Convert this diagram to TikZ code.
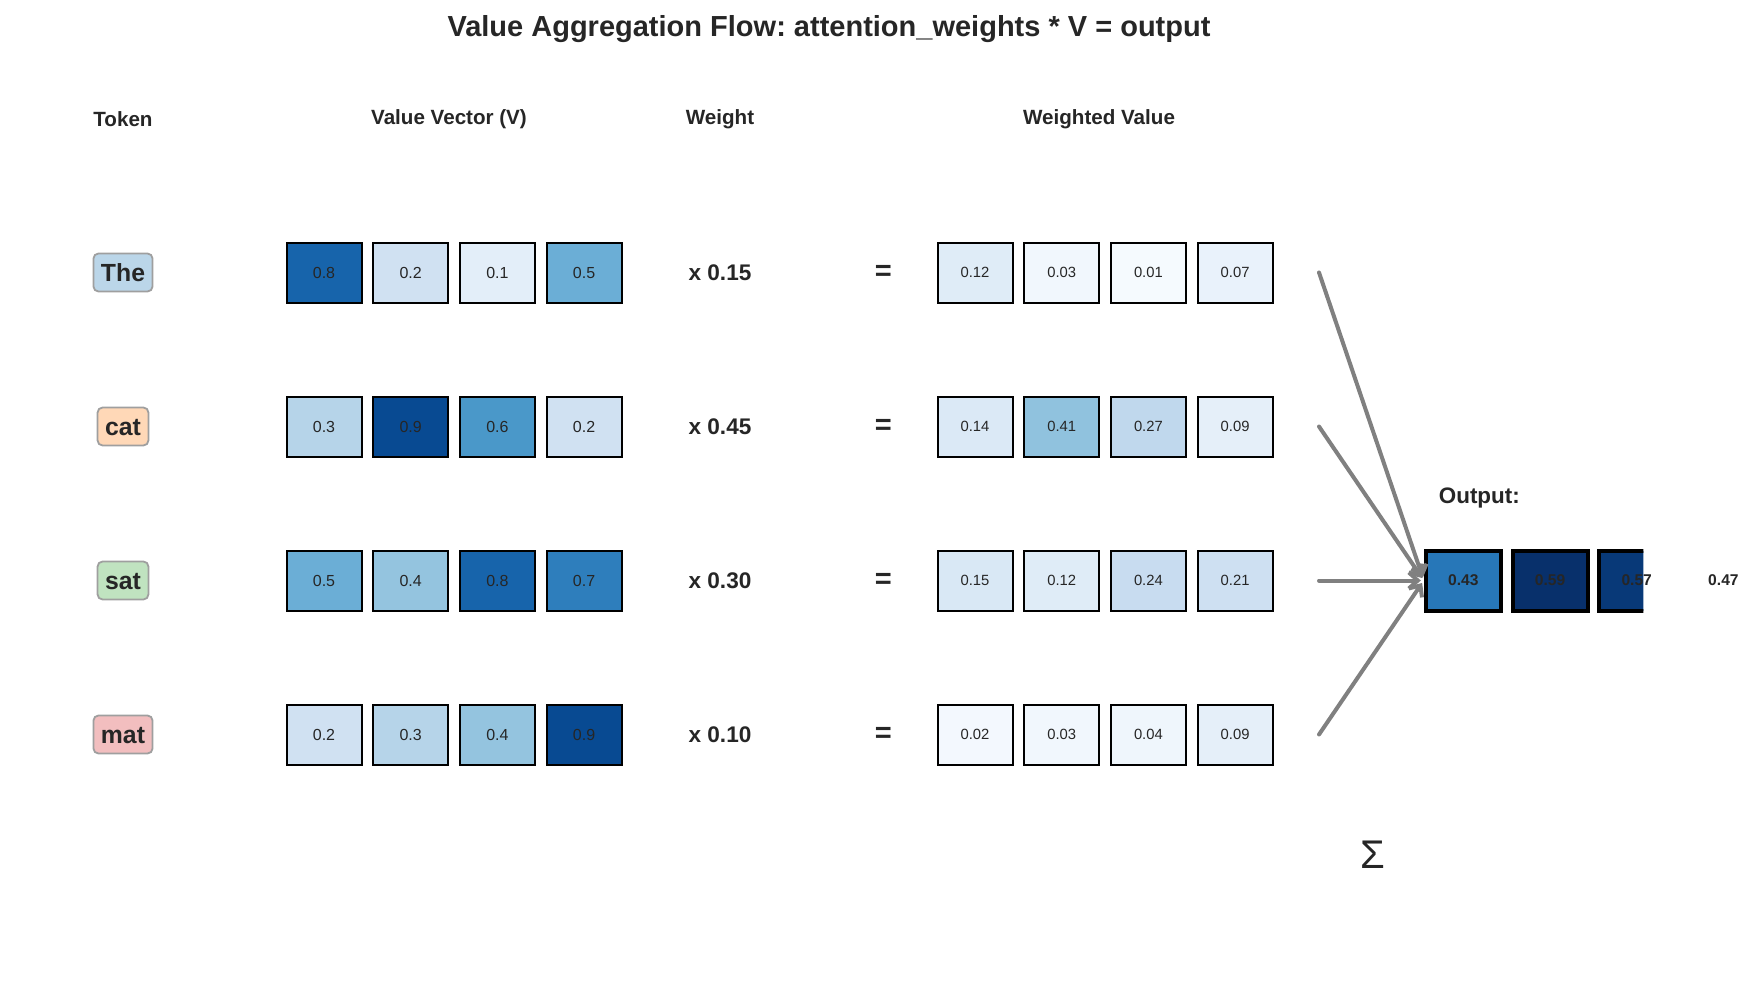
\documentclass[tikz,border=0pt]{standalone}
\usepackage{fontspec}
\setmainfont{Liberation Sans}
\usetikzlibrary{arrows.meta, calc}
\frenchspacing
\definecolor{ink}{RGB}{38,38,38}
\definecolor{arrG}{RGB}{128,128,128}
% token backgrounds
\definecolor{tokB}{RGB}{187,214,233}
\definecolor{tokO}{RGB}{255,216,183}
\definecolor{tokG}{RGB}{192,227,192}
\definecolor{tokR}{RGB}{242,190,191}
% Blues colour scale, 9 steps
\definecolor{bl0}{RGB}{247,251,255}
\definecolor{bl1}{RGB}{222,235,247}
\definecolor{bl2}{RGB}{198,219,239}
\definecolor{bl3}{RGB}{158,202,225}
\definecolor{bl4}{RGB}{107,174,214}
\definecolor{bl5}{RGB}{66,146,198}
\definecolor{bl6}{RGB}{33,113,181}
\definecolor{bl7}{RGB}{8,81,156}
\definecolor{bl8}{RGB}{8,48,107}
\newcommand{\bluesfill}[1]{%
  \pgfmathtruncatemacro{\bseg}{min(#1*8,7)}%
  \pgfmathsetmacro{\bfrac}{(#1*8-\bseg)*100}%
  \pgfmathtruncatemacro{\bnext}{\bseg+1}%
  \colorlet{cellc}{bl\bnext!\bfrac!bl\bseg}}
\tikzset{
  ttl/.style={text=ink, font=\fontsize{14.5}{17}\selectfont\bfseries},
  hdr/.style={text=ink, font=\fontsize{10.3}{12}\selectfont\bfseries},
  tok/.style={draw=gray!75, line width=0.9pt, rounded corners=2.5pt, inner xsep=3.75pt,
    minimum height=19pt, text height=9pt, text depth=0pt, text=ink,
    font=\fontsize{12.4}{14}\selectfont\bfseries},
  wgt/.style={text=ink, font=\fontsize{11.3}{13}\selectfont\bfseries},
  eqs/.style={text=ink, font=\fontsize{14.5}{17}\selectfont\bfseries},
  cell/.style={draw=black, line width=1pt, minimum width=37.5pt, minimum height=30pt,
    inner sep=0pt, text=ink, font=\fontsize{8}{9}\selectfont},
  wcell/.style={cell, font=\fontsize{7.4}{8}\selectfont},
  ocell/.style={cell, line width=2pt},
  oval/.style={text=ink, font=\fontsize{7.8}{9}\selectfont\bfseries},
  sumarr/.style={draw=arrG, line width=2pt, line cap=round, line join=round,
    -{Straight Barb[length=4.5pt, width=8pt]}, shorten >=1.5pt}
}
\begin{document}
\begin{tikzpicture}[x=0.5pt, y=-0.5pt]
\useasboundingbox (0,0) rectangle (1755,1006);
\fill[white] (0,0) rectangle (1755,1006);
% title and column heads
\node[ttl] (title) at (829,29) {Value Aggregation Flow: attention\_weights * V = output};
\node[hdr] (hTok) at (123,119.5) {Token};
\node[hdr] (hVal) at (449,119.5) {Value Vector (V)};
\node[hdr] (hWt) at (720,119.5) {Weight};
\node[hdr] (hWv) at (1099,119.5) {Weighted Value};
% one row per token
\foreach \r/\tk/\tc/\wt/\va/\vb/\vc/\vd/\qa/\qb/\qc/\qd in {
    1/The/tokB/0.15/0.8/0.2/0.1/0.5/0.12/0.03/0.01/0.07,
    2/cat/tokO/0.45/0.3/0.9/0.6/0.2/0.14/0.41/0.27/0.09,
    3/sat/tokG/0.30/0.5/0.4/0.8/0.7/0.15/0.12/0.24/0.21,
    4/mat/tokR/0.10/0.2/0.3/0.4/0.9/0.02/0.03/0.04/0.09}{
  \pgfmathsetmacro{\ry}{272.5+154*(\r-1)}
  \node[tok, fill=\tc] (tok\r) at (123,\ry) {\tk};
  \foreach \c/\v in {1/\va,2/\vb,3/\vc,4/\vd}{
    \bluesfill{\v}
    \node[cell, fill=cellc] (v\r\c) at ({324+86.7*(\c-1)},\ry) {\v};
  }
  \node[wgt] (wt\r) at (720,\ry) {x \wt};
  \node[eqs] (eq\r) at (883.3,\ry) {=};
  \foreach \c/\v in {1/\qa,2/\qb,3/\qc,4/\qd}{
    \bluesfill{\v}
    \node[wcell, fill=cellc] (w\r\c) at ({975+86.7*(\c-1)},\ry) {\v};
  }
  \coordinate (s\r) at (1319,\ry);
}
% output vector, cut off at the axes edge
\node[hdr, font=\fontsize{11.2}{13}\selectfont\bfseries] (outlbl) at (1479.3,498.3) {Output:};
\begin{scope}
  \clip (1380,500) rectangle (1643.3,660);
  \foreach \c/\t in {1/0.7265,2/1.0,3/0.9658,4/0.7949}{
    \bluesfill{\t}
    \node[ocell, fill=cellc] (out\c) at ({1463.3+86.7*(\c-1)},580.5) {};
  }
\end{scope}
\foreach \c/\v in {1/0.43,2/0.59,3/0.57,4/0.47}
  \node[oval] (ov\c) at (out\c) {\v};
% sum arrows
\foreach \r in {1,...,4}
  \draw[sumarr] (s\r) -- (out1.west);
\node[text=ink, font=\fontsize{20}{24}\selectfont] (sig) at (1372.7,854.7) {Σ};
\end{tikzpicture}
\end{document}
